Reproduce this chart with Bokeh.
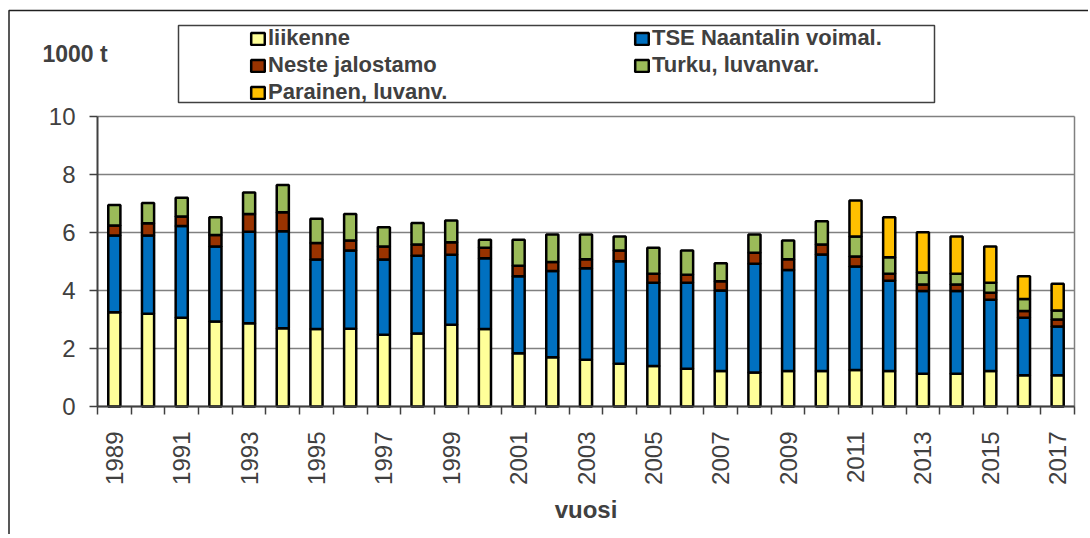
import math
from bokeh.plotting import figure
from bokeh.models import (FixedTicker, Legend, LegendItem, BoxAnnotation, Label,
                          ColumnDataSource, Range1d)
from bokeh.embed import file_html
from bokeh.resources import INLINE

nan = float("nan")

# ---- data ----
years = list(range(1989, 2018))
liikenne = [3.25, 3.20, 3.06, 2.93, 2.87, 2.70, 2.67, 2.68, 2.47, 2.52, 2.82, 2.67,
            1.84, 1.70, 1.61, 1.47, 1.40, 1.30, 1.22, 1.17, 1.22, 1.22,
            1.26, 1.22, 1.13, 1.13, 1.22, 1.08, 1.08]
tse = [2.65, 2.70, 3.16, 2.59, 3.16, 3.34, 2.40, 2.70, 2.60, 2.68, 2.41, 2.44,
       2.65, 2.97, 3.16, 3.54, 2.87, 2.97, 2.78, 3.75, 3.49, 4.02,
       3.57, 3.12, 2.85, 2.85, 2.46, 1.98, 1.68]
neste = [0.34, 0.42, 0.33, 0.39, 0.61, 0.66, 0.57, 0.34, 0.45, 0.39, 0.43, 0.36,
         0.36, 0.31, 0.31, 0.37, 0.31, 0.27, 0.32, 0.38, 0.37, 0.35,
         0.34, 0.24, 0.23, 0.23, 0.24, 0.23, 0.24]
turku = [0.71, 0.70, 0.65, 0.62, 0.74, 0.94, 0.83, 0.92, 0.66, 0.74, 0.75, 0.28,
         0.90, 0.95, 0.85, 0.48, 0.89, 0.84, 0.62, 0.63, 0.64, 0.80,
         0.69, 0.57, 0.41, 0.37, 0.35, 0.42, 0.31]
parainen = [nan] * 22 + [1.24, 1.38, 1.39, 1.28, 1.25, 0.78, 0.92]

series_keys = ["liikenne", "tse", "neste", "turku", "parainen"]
series_labels = ["liikenne", "TSE Naantalin voimal.", "Neste jalostamo",
                 "Turku, luvanvar.", "Parainen, luvanv."]
series_colors = ["#FFFF99", "#0070C0", "#993300", "#9BBB59", "#FFC000"]

tick_years = years[::2]
tick_labels = [str(y) for y in tick_years]
y_ticks = [0, 2, 4, 6, 8, 10]
y_max = 10

# ---- layout (pixels) ----
W, H = 1088, 534
PL, PR, PT, PB = 97, 1074, 116, 406      # plot-area edges
x_lo, x_hi = years[0] - 0.5, years[-1] + 0.5
sx = (PR - PL) / (x_hi - x_lo)
sy = (PB - PT) / y_max
x_start = x_lo - PL / sx
y_start = -(H - PB) / sy


def X(px):
    return x_start + px / sx


def Y(py):
    return (PB - py) / sy


TXT = "#404040"
FONT = "Liberation Sans"

src = ColumnDataSource(dict(year=years, liikenne=liikenne, tse=tse, neste=neste,
                            turku=turku, parainen=parainen))

p = figure(width=W, height=H, min_border=0,
           x_range=Range1d(x_start, X(W)), y_range=Range1d(y_start, Y(0)),
           output_backend="svg", toolbar_location=None)
p.background_fill_color = "white"
p.border_fill_color = "white"
p.outline_line_color = None
p.xgrid.grid_line_color = None
p.ygrid.grid_line_color = None

# gridlines and plot-area right edge
grid_src = ColumnDataSource(dict(x0=[x_lo] * len(y_ticks), x1=[x_hi] * len(y_ticks),
                                 y=y_ticks))
p.segment(x0="x0", x1="x1", y0="y", y1="y", source=grid_src,
          line_color="#808080", line_width=1.5, level="underlay")
p.segment(x0=[x_hi], x1=[x_hi], y0=[0], y1=[y_max],
          line_color="#808080", line_width=1.5, level="underlay")

renderers = p.vbar_stack(series_keys, x="year", width=0.36, source=src,
                         fill_color=series_colors, line_color="black",
                         line_width=2.5)

# axes
xa = p.xaxis[0]
xa.fixed_location = 0
xa.bounds = (x_lo - 0.01, x_hi + 0.01)
xa.ticker = FixedTicker(ticks=tick_years,
                        minor_ticks=[y - 0.5 for y in years] + [x_hi])
xa.major_label_overrides = {y: s for y, s in zip(tick_years, tick_labels)}
xa.major_label_orientation = math.pi / 2
xa.major_tick_out = 0
xa.major_tick_in = 0
xa.minor_tick_out = 8
xa.minor_tick_in = 0
xa.minor_tick_line_color = TXT
xa.minor_tick_line_width = 1.5
xa.major_label_standoff = 17
xa.major_label_text_font = FONT
xa.major_label_text_font_size = "24px"
xa.major_label_text_color = TXT
xa.axis_line_color = TXT
xa.axis_line_width = 2
xa.axis_label = "vuosi"
xa.axis_label_text_font = FONT
xa.axis_label_text_font_size = "24px"
xa.axis_label_text_font_style = "bold"
xa.axis_label_text_color = TXT
xa.axis_label_standoff = 8

ya = p.yaxis[0]
ya.fixed_location = x_lo
ya.bounds = (-0.001, y_max + 0.001)
ya.ticker = FixedTicker(ticks=y_ticks)
ya.major_tick_out = 8
ya.major_tick_in = 0
ya.minor_tick_out = 0
ya.minor_tick_in = 0
ya.major_tick_line_color = TXT
ya.major_tick_line_width = 1.5
ya.axis_line_color = TXT
ya.axis_line_width = 2
ya.major_label_standoff = 14
ya.major_label_text_font = FONT
ya.major_label_text_font_size = "24px"
ya.major_label_text_color = TXT

# legend
items = [LegendItem(label=lab, renderers=[r]) for lab, r in zip(series_labels, renderers)]
legend = Legend(items=items, orientation="horizontal", ncols=2,
                location=(249, H - 28 - 77), padding=0, margin=0, spacing=1,
                glyph_width=17, glyph_height=15, label_standoff=2,
                label_width=364, label_height=24,
                label_text_font=FONT, label_text_font_size="22px",
                label_text_font_style="bold", label_text_color=TXT,
                border_line_alpha=0, background_fill_alpha=0)
p.add_layout(legend, "center")

# legend frame box
p.add_layout(BoxAnnotation(left=X(178), right=X(934), top=Y(25), bottom=Y(102),
                           fill_alpha=0, line_color="#404040", line_alpha=1,
                           line_width=1.5))
# outer chart border
p.add_layout(BoxAnnotation(left=X(8.5), right=X(W + 50), top=Y(10), bottom=Y(H + 50),
                           fill_alpha=0, line_color="#202020", line_alpha=1,
                           line_width=1.5))

# unit label
p.add_layout(Label(x=X(42), y=Y(53), text="1000 t", text_align="left",
                   text_baseline="middle", text_font=FONT, text_font_size="23px",
                   text_font_style="bold", text_color=TXT))

open("out.html", "w").write(file_html(p, INLINE))
